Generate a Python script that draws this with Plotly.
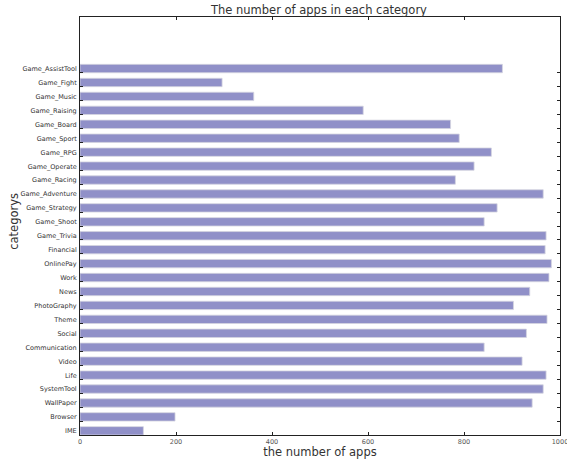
import plotly.graph_objects as go

# Categories listed bottom to top
categories = [
    "IME", "Browser", "WallPaper", "SystemTool", "Life", "Video",
    "Communication", "Social", "Theme", "PhotoGraphy", "News", "Work",
    "OnlinePay", "Financial", "Game_Trivia", "Game_Shoot", "Game_Strategy",
    "Game_Adventure", "Game_Racing", "Game_Operate", "Game_RPG",
    "Game_Sport", "Game_Board", "Game_Raising", "Game_Music",
    "Game_Fight", "Game_AssistTool",
]
app_counts = [
    132, 198, 942, 965, 971, 921,
    842, 930, 973, 903, 937, 977,
    982, 969, 971, 842, 869,
    965, 782, 821, 857,
    790, 772, 590, 362,
    296, 880,
]
x_ticks = [0, 200, 400, 600, 800, 1000]

bar_height = 0.6
positions = list(range(len(categories)))

fig = go.Figure(
    go.Bar(
        x=app_counts,
        y=[p + bar_height / 2 for p in positions],
        width=bar_height,
        orientation="h",
        marker=dict(color="#9090c8", line=dict(color="#d4d4e0", width=0.8)),
        hoverinfo="x",
    )
)

font_family = "DejaVu Sans"

fig.update_layout(
    width=567,
    height=459,
    margin=dict(l=80, r=7, t=17, b=24),
    paper_bgcolor="white",
    plot_bgcolor="white",
    showlegend=False,
    font=dict(family=font_family, color="#333333"),
    title=dict(
        text="The number of apps in each category",
        x=0.5625, xanchor="center",
        y=1 - 10 / 459, yanchor="middle",
        font=dict(size=11.5, color="#333333"),
    ),
)

# Vertical y-axis title placed explicitly to the left of the tick labels
fig.add_annotation(
    text="categorys",
    xref="paper", yref="paper",
    x=-0.1375, y=0.51,
    xanchor="center", yanchor="middle",
    textangle=-90,
    showarrow=False,
    font=dict(size=11.5, color="#333333"),
)

fig.update_xaxes(
    range=[0, 1000],
    tickvals=x_ticks,
    ticktext=[str(v) for v in x_ticks],
    ticks="inside",
    ticklen=3,
    tickcolor="#222222",
    showline=True,
    linecolor="#222222",
    linewidth=1,
    mirror="ticks",
    showgrid=False,
    zeroline=False,
    automargin=False,
    ticklabeloverflow="allow",
    tickfont=dict(size=6.5, color="#555555"),
    title=dict(text="the number of apps", font=dict(size=11.5, color="#333333"), standoff=8),
)

fig.update_yaxes(
    range=[0, 30],
    tickvals=positions,
    ticktext=categories,
    ticks="inside",
    ticklen=3,
    tickcolor="#222222",
    showline=True,
    linecolor="#222222",
    linewidth=1,
    mirror="ticks",
    showgrid=False,
    zeroline=False,
    automargin=False,
    ticklabelshift=-4,
    ticklabelstandoff=1,
    tickfont=dict(size=6.5, color="#333333"),
)

fig.write_html("out.html")
